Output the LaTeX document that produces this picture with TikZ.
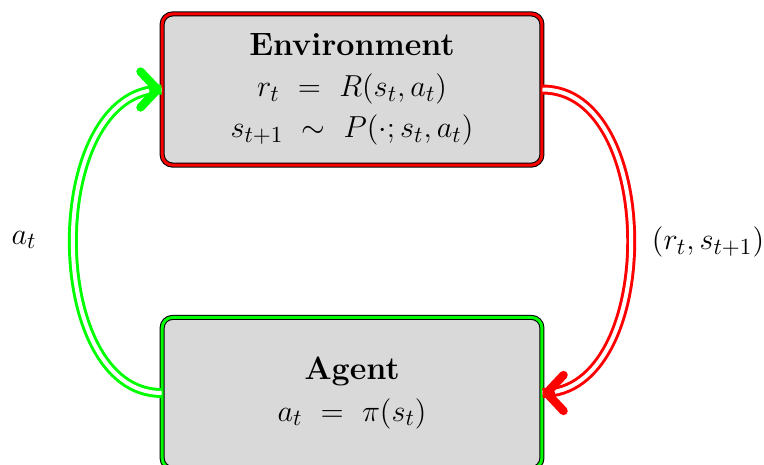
\documentclass[tikz,border=0pt]{standalone}
\usepackage{amsfonts,amsmath,amssymb}
\usepackage{tikz}
\usetikzlibrary{arrows.meta,positioning}
\tikzset{
  every picture/.style={font=\fontsize{15.3}{19.5}\selectfont, line join=round, line cap=round, >=Stealth},
  envbox/.style={draw=black, line width=0.5pt, double=red, double distance=1.4pt,
    fill=gray!30, rounded corners=5pt, minimum width=6.33cm, minimum height=2.52cm, align=center},
  agentbox/.style={envbox, double=green},
  loopline/.style={line width=1.4pt, double=white, double distance=1.9pt, line cap=butt},
  looptip/.style={line width=4pt, -{Straight Barb[round, length=8pt, width=17pt]}},
}

\begin{document}
\begin{tikzpicture}
\useasboundingbox (0,0) rectangle (12.733,7.75);
\node[envbox] (env) at (5.867,6.258) {\textbf{Environment}\\
  $r_t\ =\ R(s_t, a_t)$\\
  $s_{t+1}\ \sim\ P(\cdot; s_t, a_t)$};
\node[agentbox] (agent) at (5.867,1.2) {\textbf{Agent}\\
  $a_t\ =\ \pi(s_t)$};
% action loop
\draw[loopline,draw=green] (agent.west) to[out=180,in=180] (env.west);
\coordinate[left=3pt of env.west] (atip);
\draw[looptip,green] (atip) -- (env.west);
% reward loop
\draw[loopline,draw=red] (env.east) to[out=0,in=0] (agent.east);
\coordinate[right=3pt of agent.east] (rtip);
\draw[looptip,red] (rtip) -- (agent.east);
\node (alab) at (0.4,3.75) {$a_t$};
\node (rlab) at (11.8,3.717) {$(r_t, s_{t+1})$};
\end{tikzpicture}
\end{document}
